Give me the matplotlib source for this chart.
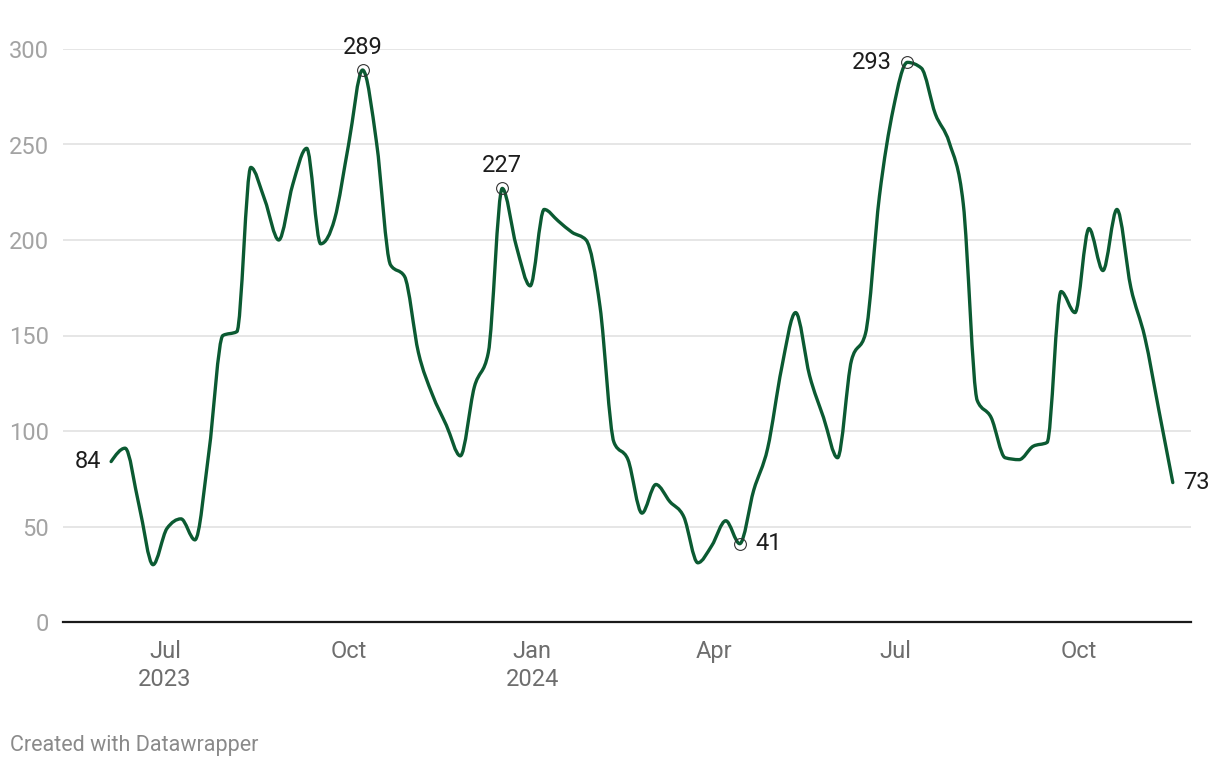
import datetime as dt
import numpy as np
import matplotlib
matplotlib.use("Agg")
import matplotlib.pyplot as plt
import matplotlib.dates as mdates
from matplotlib.path import Path
from matplotlib.patches import PathPatch

plt.rcParams['font.family'] = ['Roboto', 'DejaVu Sans']

# weekly values, first week starting 2023-06-04
start = dt.date(2023, 6, 4)
values = [84, 91, 61, 30, 49, 54, 43, 89, 150, 152,
          238, 221, 200, 229, 248, 198, 211, 250, 289, 251,
          187, 181, 141, 119, 103, 87, 123, 141, 227, 197,
          176, 216, 210, 204, 200, 165, 94, 85, 57, 72,
          63, 55, 31, 40, 53, 41, 69, 91, 133, 162,
          129, 107, 86, 137, 151, 223, 269, 293, 290, 266,
          251, 219, 116, 107, 86, 85, 92, 94, 173, 162,
          206, 184, 216, 175, 149, 111, 73]
dates = [start + dt.timedelta(weeks=i) for i in range(len(values))]

# labelled points: (index, text, ha, va, dx px, dy px)
labels = [(0, "84", "right", "center", -10, 0),
          (18, "289", "center", "bottom", 0, 11),
          (28, "227", "center", "bottom", 0, 11),
          (45, "41", "left", "center", 16, 0),
          (57, "293", "right", "center", -16, 0),
          (76, "73", "left", "center", 10, 0)]
circled = [18, 28, 45, 57]

tick_dates = [dt.date(2023, 7, 1), dt.date(2023, 10, 1), dt.date(2024, 1, 1),
              dt.date(2024, 4, 1), dt.date(2024, 7, 1), dt.date(2024, 10, 1)]
tick_labels = ["Jul\n2023", "Oct", "Jan\n2024", "Apr", "Jul", "Oct"]
yticks = [0, 50, 100, 150, 200, 250, 300]

LINE = "#0b5a32"
FS = 17


def monotone_path(x, y):
    # bezier segments like d3.curveMonotoneX
    x = np.asarray(x, float)
    y = np.asarray(y, float)
    n = len(x)
    h = np.diff(x)
    s = np.diff(y) / h
    t = np.zeros(n)
    for i in range(1, n - 1):
        p = (s[i - 1] * h[i] + s[i] * h[i - 1]) / (h[i - 1] + h[i])
        t[i] = (np.sign(s[i - 1]) + np.sign(s[i])) * min(abs(s[i - 1]), abs(s[i]), 0.5 * abs(p))
    t[0] = (3 * s[0] - t[1]) / 2
    t[-1] = (3 * s[-1] - t[-2]) / 2
    verts = [(x[0], y[0])]
    codes = [Path.MOVETO]
    for i in range(n - 1):
        d = h[i] / 3
        verts += [(x[i] + d, y[i] + d * t[i]), (x[i + 1] - d, y[i + 1] - d * t[i + 1]), (x[i + 1], y[i + 1])]
        codes += [Path.CURVE4] * 3
    return Path(verts, codes)


fig = plt.figure(figsize=(12.2, 7.68), dpi=100)
ax = fig.add_axes([63 / 1220, 146 / 768, 1128 / 1220, 573 / 768])

xn = mdates.date2num(dates)
ax.add_patch(PathPatch(monotone_path(xn, values), facecolor="none", edgecolor=LINE,
                       lw=2.4, capstyle="round", joinstyle="round", zorder=3))

ax.plot([xn[i] for i in circled], [values[i] for i in circled], "o", ms=8.5,
        mfc="none", mec="#333333", mew=0.8, zorder=4)

for i, txt, ha, va, dx, dy in labels:
    ax.annotate(txt, (xn[i], values[i]), xytext=(dx * 0.72, dy * 0.72), textcoords="offset points",
                ha=ha, va=va, fontsize=FS, color="#1d1d1d", zorder=5)

# axes
jul = mdates.date2num(dt.date(2023, 7, 1))
octo = mdates.date2num(dt.date(2024, 10, 1))
ppd = (1079 - 165) / (octo - jul)
ax.set_xlim(jul - (165 - 63) / ppd, octo + (1191 - 1079) / ppd)
ax.set_ylim(0, 300)

ax.set_yticks(yticks)
ax.set_yticklabels([str(v) for v in yticks])
ax.set_xticks(mdates.date2num(tick_dates))
ax.set_xticklabels(tick_labels, linespacing=1.3)
ax.tick_params(axis="y", length=0, pad=10, labelsize=FS, labelcolor="#a3a3a3")
ax.tick_params(axis="x", length=0, pad=13, labelsize=FS, labelcolor="#6e6e6e")
for lab in ax.get_xticklabels():
    lab.set_verticalalignment("top")

ax.grid(axis="y", color="#e2e2e2", lw=1.2)
ax.grid(axis="x", visible=False)
for side in ["top", "right", "left"]:
    ax.spines[side].set_visible(False)
ax.spines["bottom"].set_color("#1a1a1a")
ax.spines["bottom"].set_linewidth(1.6)
ax.set_axisbelow(True)

fig.text(10 / 1220, 1 - 745 / 768, "Created with Datawrapper", fontsize=15.5, color="#8a8a8a",
         ha="left", va="center")

fig.savefig("out.png", dpi=100, facecolor="white")
